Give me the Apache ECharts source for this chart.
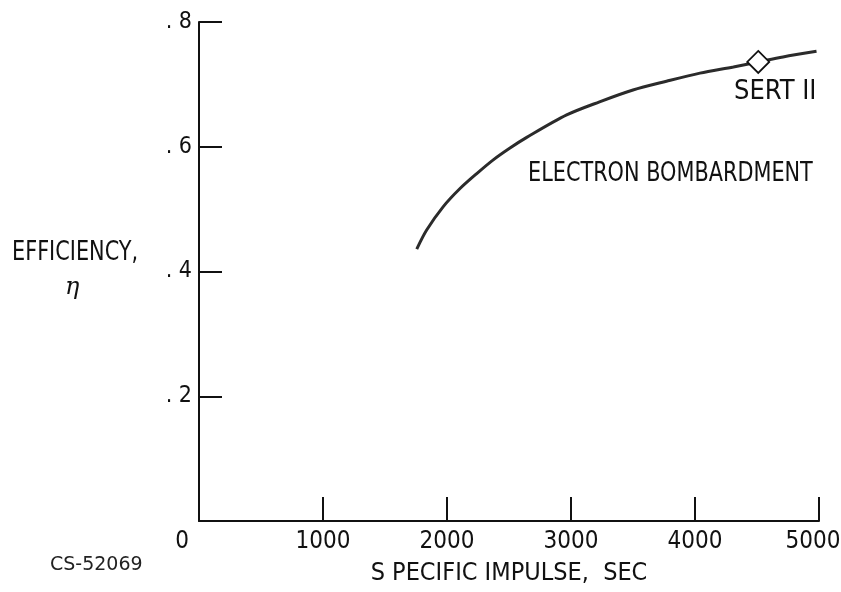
<!DOCTYPE html>
<html>
<head>
<meta charset="utf-8">
<script src="https://cdn.jsdelivr.net/npm/echarts@6/dist/echarts.min.js"></script>
<style>
html,body{margin:0;padding:0;background:#fff;}
#c{width:841px;height:592px;}
</style>
</head>
<body>
<div id="c"></div>
<script>
var impulse = [1756, 1836, 1970, 2105, 2240, 2373, 2508, 2643, 2965, 3230, 3500, 3770, 4040, 4310, 4510, 4710, 4980];
var efficiency = [0.436, 0.4665, 0.504, 0.533, 0.557, 0.579, 0.598, 0.615, 0.651, 0.672, 0.691, 0.705, 0.718, 0.728, 0.736, 0.744, 0.753];
var sertPoint = [4510, 0.736];
var xTicks = [0, 1000, 2000, 3000, 4000, 5000];
var yTicks = [0, 0.2, 0.4, 0.6, 0.8];

var FONT = '"DejaVu Sans Condensed", "DejaVu Sans", sans-serif';
var chart = echarts.init(document.getElementById('c'));
var curve = impulse.map(function (x, i) { return [x, efficiency[i]]; });

chart.setOption({
  backgroundColor: '#fff',
  animation: false,
  grid: { left: 199, right: 22, top: 22, bottom: 71, outerBoundsMode: 'none', containLabel: false },
  xAxis: {
    type: 'value', min: xTicks[0], max: xTicks[xTicks.length - 1], interval: 1000,
    name: 'S PECIFIC IMPULSE,  SEC', nameLocation: 'middle', nameGap: 40,
    nameTextStyle: { fontFamily: FONT, fontSize: 25, color: '#111' },
    axisLine: { show: true, onZero: false, lineStyle: { color: '#111', width: 2 } },
    axisTick: { show: true, inside: true, length: 24, lineStyle: { color: '#111', width: 2 } },
    splitLine: { show: false },
    axisLabel: {
      margin: 9, fontFamily: FONT, fontSize: 24, color: '#111',
      formatter: function (v) {
        if (v === xTicks[0]) return '{z|' + v + '}';
        if (v === xTicks[xTicks.length - 1]) return '{e|' + v + '}';
        return String(v);
      },
      rich: {
        z: { fontFamily: FONT, fontSize: 24, color: '#111', padding: [0, 34, 0, 0] },
        e: { fontFamily: FONT, fontSize: 24, color: '#111', padding: [0, 12, 0, 0] }
      }
    }
  },
  yAxis: {
    type: 'value', min: yTicks[0], max: yTicks[yTicks.length - 1], interval: 0.2,
    axisLine: { show: true, onZero: false, lineStyle: { color: '#111', width: 2 } },
    axisTick: { show: true, inside: true, length: 23, lineStyle: { color: '#111', width: 2 } },
    splitLine: { show: false },
    axisLabel: {
      margin: 7, fontFamily: FONT, fontSize: 23, color: '#111',
      formatter: function (v) { return v === 0 ? '' : '. ' + String(Math.round(v * 10)); }
    }
  },
  graphic: [
    { type: 'text', x: 12, y: 240, scaleX: 0.89, style: { text: 'EFFICIENCY,', font: '26px ' + FONT, fill: '#111' } },
    { type: 'text', x: 65, y: 276, style: { text: 'η', font: 'italic 24px "DejaVu Serif", serif', fill: '#111' } },
    { type: 'text', x: 528, y: 161, scaleX: 0.89, style: { text: 'ELECTRON BOMBARDMENT', font: '26px ' + FONT, fill: '#111' } },
    { type: 'text', x: 50, y: 556, style: { text: 'CS-52069', font: '19px "DejaVu Sans", sans-serif', fill: '#222' } }
  ],
  series: [
    {
      type: 'line', data: curve, smooth: 0.3, showSymbol: false, symbol: 'none',
      lineStyle: { color: '#2b2b2b', width: 3 }, z: 2
    },
    {
      type: 'scatter', data: [sertPoint], symbol: 'diamond', symbolSize: [22, 22],
      itemStyle: { color: '#fff', borderColor: '#111', borderWidth: 1.8, opacity: 1 }, z: 3,
      label: {
        show: true, position: 'bottom', distance: 5, offset: [17, 0],
        formatter: 'SERT II', fontFamily: FONT, fontSize: 27, color: '#111', opacity: 1
      }
    }
  ]
});
</script>
</body>
</html>
